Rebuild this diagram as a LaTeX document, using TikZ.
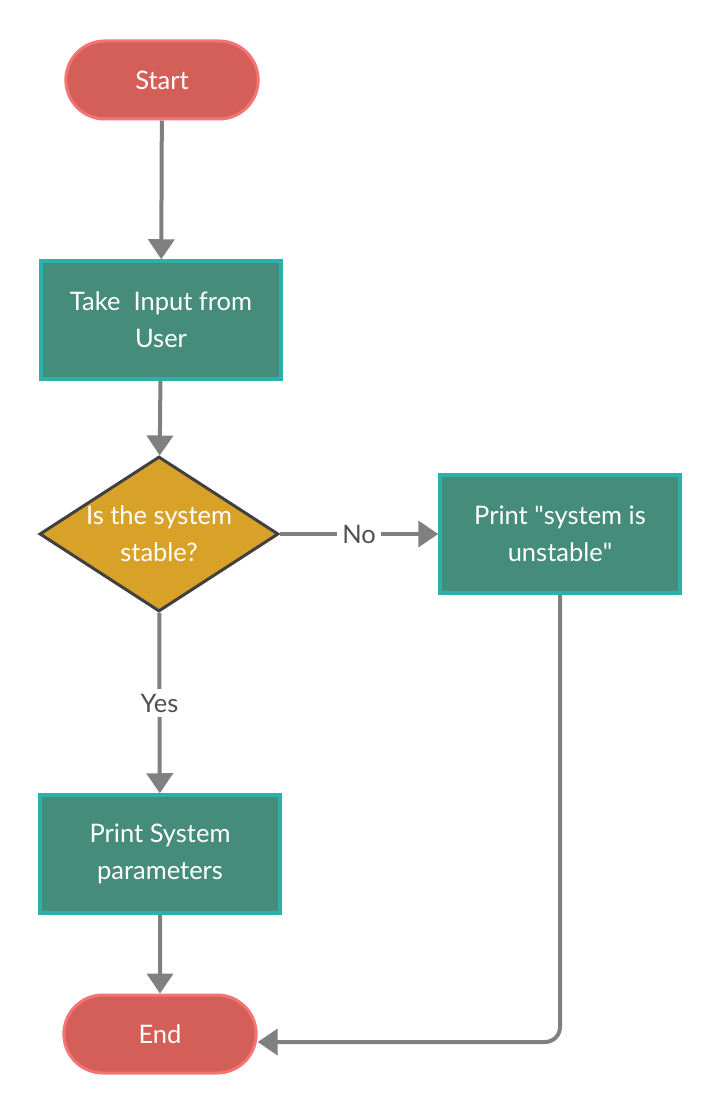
\documentclass[tikz,border=0pt]{standalone}
\usepackage{fontspec}
\setmainfont{Lato}
\usepackage{xcolor}
\usepackage{tikz}
\usetikzlibrary{shapes.geometric, shapes.misc, arrows.meta, positioning}

\definecolor{termfill}{HTML}{D45E58}
\definecolor{termline}{HTML}{F47474}
\definecolor{procfill}{HTML}{458C7A}
\definecolor{procline}{HTML}{2BB0AA}
\definecolor{decfill}{HTML}{D8A128}
\definecolor{decline}{HTML}{404040}
\definecolor{linegray}{HTML}{808080}
\definecolor{labelgray}{HTML}{505050}

\begin{document}
\begin{tikzpicture}[x=1pt, y=-1pt,
  every node/.style={font=\fontsize{25.5}{37}\selectfont},
  terminal/.style={rounded rectangle, draw=termline, fill=termfill, line width=3pt, minimum width=199pt, minimum height=78pt, text=white},
  process/.style={rectangle, draw=procline, fill=procfill, line width=3.5pt, minimum width=240pt, minimum height=118pt, text=white, align=center},
  decision/.style={diamond, draw=decline, fill=decfill, line width=3pt, aspect=1.53, inner sep=0pt, minimum width=239pt, minimum height=155pt, text=white, align=center},
  connector/.style={draw=linegray, line width=4pt, -{Triangle[width=26pt,length=20pt]}},
  branch/.style={fill=white, text=labelgray, inner sep=5pt}]
% Page size
\useasboundingbox (0,0) rectangle (721,1115);

% Draw the nodes
\node[terminal] (Start) at (162,80) {Start};
\node[process] (Input) at (161,320) {Take\ \ Input from\\User};
\node[decision] (Stable) at (159,534) {Is the system\\stable?};
\node[process] (Unstable) at (560,534) {Print \textquotedbl system is\\unstable\textquotedbl};
\node[process] (Params) at (160,854) {Print System\\parameters};
\node[terminal] (End) at (160,1034) {End};

% Entry point of the return line
\coordinate (EndIn) at ([yshift=-8pt]End.east);

% Draw the connectors
\draw[connector] (Start) -- (Input);
\draw[connector] (Input) -- (Stable);
\draw[connector] (Stable) -- node[branch] {No} (Unstable);
\draw[connector] (Stable) -- node[branch] {Yes} (Params);
\draw[connector] (Params) -- (End);
\draw[connector, rounded corners=15pt] (Unstable.south) |- (EndIn);

\end{tikzpicture}
\end{document}
